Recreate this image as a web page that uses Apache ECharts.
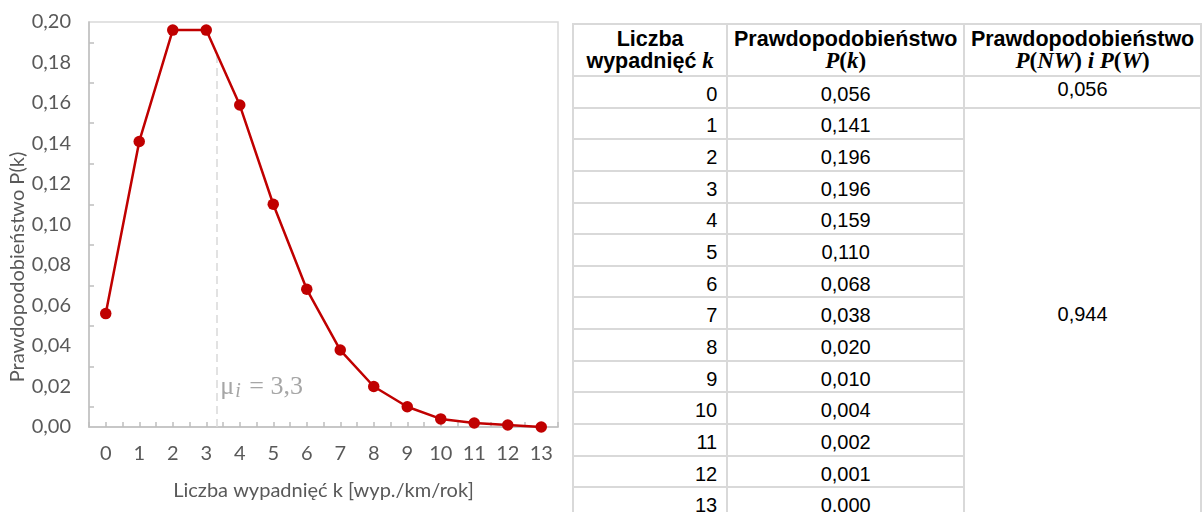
<!DOCTYPE html>
<html lang="pl">
<head>
<meta charset="utf-8">
<title>Rozkład prawdopodobieństwa liczby wypadnięć</title>
<script src="https://cdn.jsdelivr.net/npm/echarts@6/dist/echarts.min.js"></script>
<style>
  html, body { margin: 0; padding: 0; background: #fff; width: 1202px; height: 512px; overflow: hidden; }
  #chart { position: absolute; left: 0; top: 0; width: 570px; height: 512px; }
  #tbl {
    position: absolute; left: 572px; top: 23px;
    border-collapse: collapse; table-layout: fixed;
    font-family: "Liberation Sans", Arial, sans-serif; font-size: 20px; color: #000;
  }
  #tbl th, #tbl td { border: 2px solid #d9d9d9; padding: 0; box-sizing: border-box; }
  #tbl th { font-weight: bold; font-size: 21.5px; line-height: 22px; height: 52px; text-align: center; vertical-align: middle; white-space: nowrap; }
  #tbl td { height: 31.65px; line-height: 22px; vertical-align: middle; padding-top: 4px; }
  #tbl td.k { text-align: right; padding-right: 9px; }
  #tbl td.p { text-align: center; }
  #tbl td.g0 { text-align: center; vertical-align: top; padding-top: 1px; }
  #tbl td.g1 { text-align: center; vertical-align: middle; padding-top: 0; border-bottom: none; }
  .m { font-family: "Liberation Serif", "DejaVu Serif", serif; font-style: italic; font-weight: bold; font-size: 23px; }
  .m .u { font-style: normal; }
</style>
</head>
<body>
<div id="chart"></div>
<table id="tbl">
  <colgroup><col style="width:161px"><col style="width:240px"><col style="width:240px"></colgroup>
  <thead>
    <tr>
      <th>Liczba<br>wypadnięć <span class="m">k</span></th>
      <th>Prawdopodobieństwo<br><span class="m">P<span class="u">(</span>k<span class="u">)</span></span></th>
      <th>Prawdopodobieństwo<br><span class="m">P<span class="u">(</span>NW<span class="u">)</span> i P<span class="u">(</span>W<span class="u">)</span></span></th>
    </tr>
  </thead>
  <tbody id="tbody"></tbody>
</table>
<script>
// Liczba wypadnięć k oraz prawdopodobieństwa P(k)
const kValues = [0, 1, 2, 3, 4, 5, 6, 7, 8, 9, 10, 11, 12, 13];
const probabilities = [0.056, 0.141, 0.196, 0.196, 0.159, 0.110, 0.068, 0.038, 0.020, 0.010, 0.004, 0.002, 0.001, 0.000];
// P(NW) i P(W)
const groupProbabilities = [0.056, 0.944];
// wartość oczekiwana
const meanK = 3.3;

const yTickStep = 0.02;

const fmt = (v, d) => v.toFixed(d).replace('.', ',');

// tabela z wartościami
const tbody = document.getElementById('tbody');
kValues.forEach((k, i) => {
  const tr = document.createElement('tr');
  const c1 = document.createElement('td'); c1.className = 'k'; c1.textContent = String(k); tr.appendChild(c1);
  const c2 = document.createElement('td'); c2.className = 'p'; c2.textContent = fmt(probabilities[i], 3); tr.appendChild(c2);
  if (i === 0) {
    const c3 = document.createElement('td'); c3.className = 'g0'; c3.textContent = fmt(groupProbabilities[0], 3); tr.appendChild(c3);
  } else if (i === 1) {
    const c3 = document.createElement('td'); c3.className = 'g1'; c3.rowSpan = kValues.length - 1;
    c3.textContent = fmt(groupProbabilities[1], 3); tr.appendChild(c3);
  }
  tbody.appendChild(tr);
});

// wysokość krzywej w punkcie wartości oczekiwanej (odcinek między sąsiednimi punktami)
const i0 = Math.floor(meanK);
const curveAtMean = probabilities[i0] + (probabilities[i0 + 1] - probabilities[i0]) * (meanK - kValues[i0]);

const axisGray = '#bfbfbf';
const textGray = '#595959';
const uiFont = 'Lato';
const uiSize = 20;

const chart = echarts.init(document.getElementById('chart'), null, { renderer: 'canvas' });
chart.setOption({
  animation: false,
  backgroundColor: '#fff',
  grid: { left: 89, top: 22, right: 12, bottom: 85, show: true, borderColor: '#d9d9d9', borderWidth: 1.5 },
  xAxis: {
    type: 'value',
    min: -0.5, max: 13.5, interval: 0.5,
    name: 'Liczba wypadnięć k [wyp./km/rok]',
    nameLocation: 'middle', nameGap: 54,
    nameTextStyle: { color: textGray, fontFamily: uiFont, fontSize: uiSize },
    axisLine: { show: true, onZero: false, lineStyle: { color: axisGray, width: 1.5 } },
    axisTick: { show: true, inside: true, length: 5, lineStyle: { color: axisGray, width: 1.5 } },
    axisLabel: {
      color: textGray, fontFamily: uiFont, fontSize: uiSize, margin: 17,
      formatter: v => Number.isInteger(v) ? String(v) : ''
    },
    splitLine: { show: false }
  },
  yAxis: {
    type: 'value',
    min: 0, max: 0.2, interval: yTickStep,
    axisLine: { show: true, onZero: false, lineStyle: { color: axisGray, width: 1.5 } },
    axisTick: { show: false, inside: true },
    minorTick: { show: true, splitNumber: 2, length: 5, lineStyle: { color: axisGray, width: 1.5 } },
    axisLabel: { color: textGray, fontFamily: uiFont, fontSize: uiSize, margin: 18, formatter: v => fmt(v, 2) },
    splitLine: { show: false },
    minorSplitLine: { show: false }
  },
  graphic: [{
    type: 'text',
    x: 18, y: 267, rotation: Math.PI / 2,
    style: {
      text: 'Prawdopodobieństwo P(k)',
      fill: textGray, font: uiSize + 'px Lato',
      textAlign: 'center', textVerticalAlign: 'middle'
    },
    silent: true
  }],
  series: [{
    type: 'line',
    data: kValues.map((k, i) => [k, probabilities[i]]),
    color: '#c00000',
    lineStyle: { color: '#c00000', width: 2.5 },
    itemStyle: { color: '#c00000' },
    symbol: 'circle', symbolSize: 11.5,
    z: 3,
    markLine: {
      silent: true,
      symbol: ['none', 'none'],
      lineStyle: { color: '#d9d9d9', type: [8, 5], width: 1.5 },
      label: { show: false },
      emphasis: { disabled: true },
      data: [[{ coord: [meanK, 0] }, { coord: [meanK, curveAtMean] }]],
      z: 1
    },
    markPoint: {
      silent: true,
      symbol: 'circle', symbolSize: 0,
      itemStyle: { color: 'rgba(0,0,0,0)' },
      label: {
        show: true, position: 'right', distance: 4, offset: [0, -40],
        formatter: '{mu|μ}{sub|i}{eq| = ' + fmt(meanK, 1) + '}',
        rich: {
          mu: { fontFamily: 'Liberation Serif', fontSize: 26, color: '#a6a6a6', lineHeight: 30, verticalAlign: 'middle' },
          sub: { fontFamily: 'Liberation Serif', fontStyle: 'italic', fontSize: 20, color: '#a6a6a6', lineHeight: 30, verticalAlign: 'bottom', padding: [0, 2, 0, 1] },
          eq: { fontFamily: 'Liberation Serif', fontSize: 26, color: '#a6a6a6', lineHeight: 30, verticalAlign: 'middle' }
        }
      },
      data: [{ coord: [meanK, 0] }]
    }
  }]
});
</script>
</body>
</html>
